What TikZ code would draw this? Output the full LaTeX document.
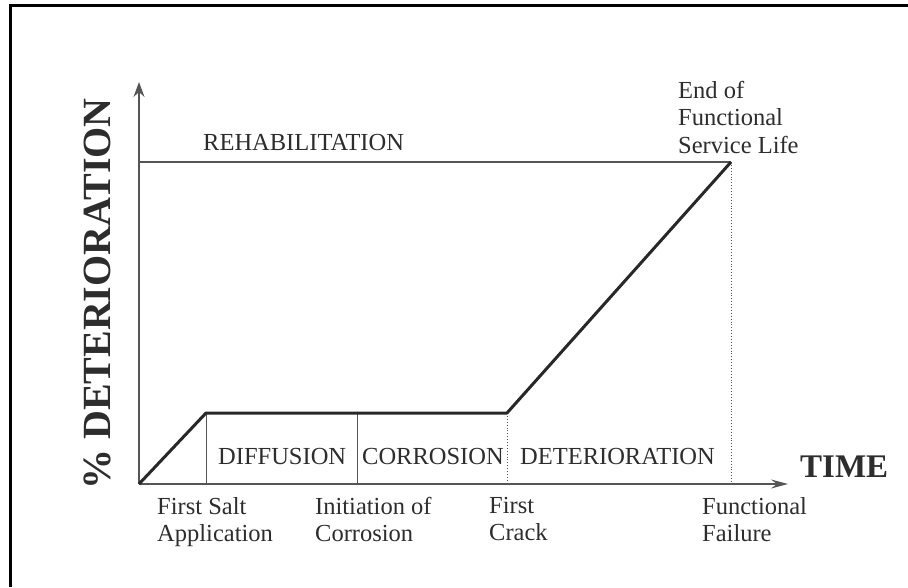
\documentclass[tikz,border=0pt]{standalone}
\usepackage{fontspec}
\setmainfont{Liberation Serif}
\usetikzlibrary{arrows.meta}
\definecolor{txt}{RGB}{45,45,45}
\definecolor{axc}{RGB}{85,85,85}
\definecolor{crv}{RGB}{40,40,40}
\tikzset{
  lbl/.style={inner sep=0pt, text=txt, font=\fontsize{24.5}{27.5}\selectfont},
  below lbl/.style={lbl, align=left, anchor=north west},
  axis line/.style={draw=axc, line width=1.2pt},
  thin vert/.style={draw=axc, line width=0.9pt},
  dot vert/.style={draw=axc, line width=0.9pt, dotted},
  curve line/.style={draw=crv, line width=3pt, line join=round},
}
\begin{document}
\begin{tikzpicture}[x=1pt,y=-1pt]
\useasboundingbox (0,0) rectangle (908,587);
\fill[white] (0,0) rectangle (908,587);
% frame
\draw[line width=3pt, black] (908,5) -- (10,5) -- (10,587);
% key points
\coordinate (O) at (139,484);
\coordinate (Ytip) at (139,82);
\coordinate (Xtip) at (788,484);
\coordinate (A) at (206,413);
\coordinate (Afoot) at (206,484);
\coordinate (M) at (357,413);
\coordinate (Mfoot) at (357,484);
\coordinate (B) at (507,413);
\coordinate (Bfoot) at (507,484);
\coordinate (C) at (731,162);
\coordinate (Cfoot) at (731,484);
\coordinate (R) at (139,162);
% axes
\draw[axis line, -{Stealth[length=15pt,width=11pt,inset=5pt]}] (O) -- (Ytip);
\draw[axis line, -{Stealth[length=17pt,width=9pt,inset=6pt]}] (O) -- (Xtip);
% rehabilitation line
\draw[axis line] (R) -- (C);
% verticals
\draw[thin vert] (A) -- (Afoot);
\draw[thin vert] (M) -- (Mfoot);
\draw[dot vert] (B) -- (Bfoot);
\draw[dot vert] (C) -- (Cfoot);
% curve
\draw[curve line] (O) -- (A) -- (B) -- (C);
% labels
\node[lbl, anchor=base west] (rehab) at (203,150) {REHABILITATION};
\node[lbl, anchor=base west] (diff) at (218,464) {DIFFUSION};
\node[lbl, anchor=base west] (corr) at (362,464) {CORROSION};
\node[lbl, anchor=base west] (det) at (520,464) {DETERIORATION};
\node[lbl, anchor=base west, font=\fontsize{33}{36}\selectfont\bfseries] (time) at (800,477) {TIME};
\node[lbl, anchor=base west, rotate=90, font=\fontsize{40}{42}\selectfont\bfseries] (ylab) at (110,490) {\% DETERIORATION};
\node[below lbl] (fsa) at (157,497) {First Salt\\Application};
\node[below lbl] (ioc) at (315,497) {Initiation of\\Corrosion};
\node[below lbl] (fc) at (489,497) {First\\Crack};
\node[below lbl] (ff) at (702,497) {Functional\\Failure};
\node[below lbl] (eol) at (678,81) {End of\\Functional\\Service Life};
\end{tikzpicture}
\end{document}
